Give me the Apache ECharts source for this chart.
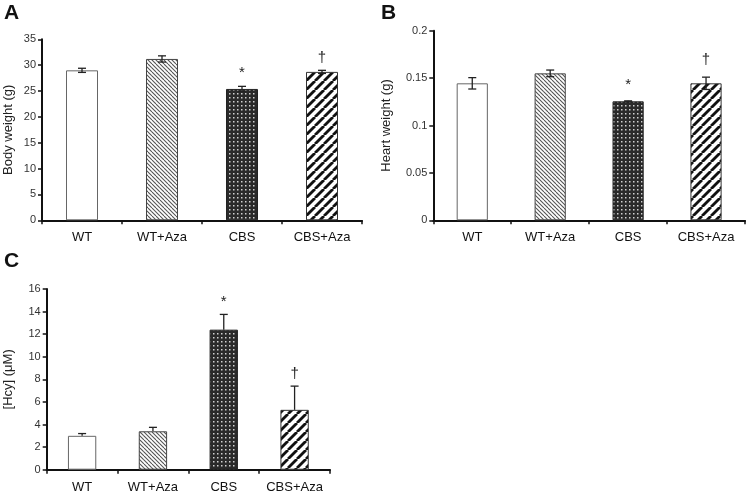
<!DOCTYPE html>
<html>
<head>
<meta charset="utf-8">
<script src="https://cdn.jsdelivr.net/npm/echarts@6/dist/echarts.min.js"></script>
<style>html,body{margin:0;padding:0;background:#fff}#c{width:748px;height:494px}</style>
</head>
<body>
<div id="c"></div>
<script>
var categories = ['WT', 'WT+Aza', 'CBS', 'CBS+Aza'];
var bodyWeight = [29.0, 31.2, 25.4, 28.7];
var bodyWeightErr = [0.4, 0.6, 0.5, 0.3];
var heartWeight = [0.1445, 0.155, 0.1255, 0.1445];
var heartWeightErr = [0.006, 0.0035, 0.0005, 0.0065];
var hcy = [3.0, 3.4, 12.4, 5.3];
var hcyErr = [0.2, 0.35, 1.35, 2.1];
var sigMarks = ['', '', '*', '\u2020'];
var yTicksA = [0, 35, 5];
var yTicksB = [0, 0.2, 0.05];
var yTicksC = [0, 16, 2];

function makePattern(kind) {
  var cv = document.createElement('canvas');
  var ctx;
  if (kind === 'thin') {
    cv.width = 8; cv.height = 8; ctx = cv.getContext('2d');
    ctx.fillStyle = '#fff'; ctx.fillRect(0, 0, 8, 8);
    ctx.strokeStyle = '#555'; ctx.lineWidth = 1.1;
    for (var c = -8; c <= 16; c += 4) { ctx.beginPath(); ctx.moveTo(c, 0); ctx.lineTo(c + 8, 8); ctx.stroke(); }
  } else if (kind === 'dots') {
    cv.width = 4; cv.height = 4; ctx = cv.getContext('2d');
    ctx.fillStyle = '#2a2a2a'; ctx.fillRect(0, 0, 4, 4);
    ctx.fillStyle = '#d0d0d0'; ctx.fillRect(1, 1, 1.5, 1.5);
  } else if (kind === 'thick') {
    cv.width = 9; cv.height = 9; ctx = cv.getContext('2d');
    ctx.fillStyle = '#fff'; ctx.fillRect(0, 0, 9, 9);
    ctx.strokeStyle = '#111'; ctx.lineWidth = 2.8;
    for (var d = -9; d <= 27; d += 9) { ctx.beginPath(); ctx.moveTo(d, 0); ctx.lineTo(d - 9, 9); ctx.stroke(); }
  }
  return { image: cv, repeat: 'repeat' };
}
var fills = ['#ffffff', makePattern('thin'), makePattern('dots'), makePattern('thick')];
var borders = ['#666', '#444', '#222', '#333'];

var font = 'Liberation Sans, Arial, sans-serif';
var grids = [
  { left: 42, top: 39.3, width: 320, height: 181 },
  { left: 433.3, top: 30.7, width: 311.7, height: 189.6 },
  { left: 46.7, top: 289, width: 283.3, height: 180.7 }
];
var names = ['Body weight (g)', 'Heart weight (g)', '[Hcy] (\u03bcM)'];
var nameGaps = [27, 40, 32];
var ticks = [yTicksA, yTicksB, yTicksC];
var means = [bodyWeight, heartWeight, hcy];
var errs = [bodyWeightErr, heartWeightErr, hcyErr];
var twoSided = [true, true, false];
var sigOffsets = [[0, 0, 6, 5], [0, 0, 8, 10], [0, 0, 5, 5]];

var xAxes = [], yAxes = [], series = [];
for (var g = 0; g < 3; g++) {
  xAxes.push({
    type: 'category', gridIndex: g, data: categories,
    axisLine: { lineStyle: { color: '#111', width: 2 } },
    axisTick: { show: true, length: 4, lineStyle: { color: '#111', width: 1.5 } },
    axisLabel: { color: '#111', fontSize: 13, fontFamily: font, margin: 11, interval: 0 }
  });
  yAxes.push({
    type: 'value', gridIndex: g, min: ticks[g][0], max: ticks[g][1], interval: ticks[g][2],
    name: names[g], nameLocation: 'middle', nameGap: nameGaps[g], nameRotate: 90,
    nameTextStyle: { color: '#222', fontSize: 13, fontFamily: font },
    axisLine: { show: true, lineStyle: { color: '#111', width: 2 } },
    axisTick: { show: true, length: 4, lineStyle: { color: '#111', width: 1.5 } },
    axisLabel: { color: '#333', fontSize: 11, fontFamily: font, margin: 6 },
    splitLine: { show: false }
  });
  (function (g) {
    series.push({
      type: 'bar', xAxisIndex: g, yAxisIndex: g, barWidth: '40%',
      data: means[g].map(function (v, i) {
        return { value: v, itemStyle: { color: fills[i], borderColor: borders[i], borderWidth: 1 } };
      }),
      z: 2
    });
    series.push({
      type: 'custom', xAxisIndex: g, yAxisIndex: g, z: 5,
      data: means[g].map(function (v, i) { return [i, v, errs[g][i]]; }),
      renderItem: function (params, api) {
        var i = api.value(0), m = api.value(1), e = api.value(2);
        var top = api.coord([i, m + e]);
        var bot = api.coord([i, twoSided[g] ? m - e : m]);
        var hw = 4;
        var style = { stroke: '#222', lineWidth: 1.3 };
        var children = [
          { type: 'line', shape: { x1: top[0], y1: top[1], x2: bot[0], y2: bot[1] }, style: style },
          { type: 'line', shape: { x1: top[0] - hw, y1: top[1], x2: top[0] + hw, y2: top[1] }, style: style }
        ];
        if (twoSided[g]) {
          children.push({ type: 'line', shape: { x1: bot[0] - hw, y1: bot[1], x2: bot[0] + hw, y2: bot[1] }, style: style });
        }
        var s = sigMarks[i];
        if (s) {
          children.push({
            type: 'text',
            style: {
              text: s, x: top[0], y: top[1] - sigOffsets[g][i], align: 'center', verticalAlign: 'bottom',
              fill: '#222', font: '15px ' + font
            }
          });
        }
        return { type: 'group', children: children };
      }
    });
  })(g);
}

var chart = echarts.init(document.getElementById('c'), null, { renderer: 'canvas' });
chart.setOption({
  animation: false,
  backgroundColor: '#fff',
  grid: grids,
  xAxis: xAxes,
  yAxis: yAxes,
  series: series,
  graphic: [
    { type: 'text', left: 4, top: 3, style: { text: 'A', font: 'bold 21px ' + font, fill: '#111' } },
    { type: 'text', left: 381, top: 3, style: { text: 'B', font: 'bold 21px ' + font, fill: '#111' } },
    { type: 'text', left: 4, top: 251, style: { text: 'C', font: 'bold 21px ' + font, fill: '#111' } }
  ]
});
</script>
</body>
</html>
